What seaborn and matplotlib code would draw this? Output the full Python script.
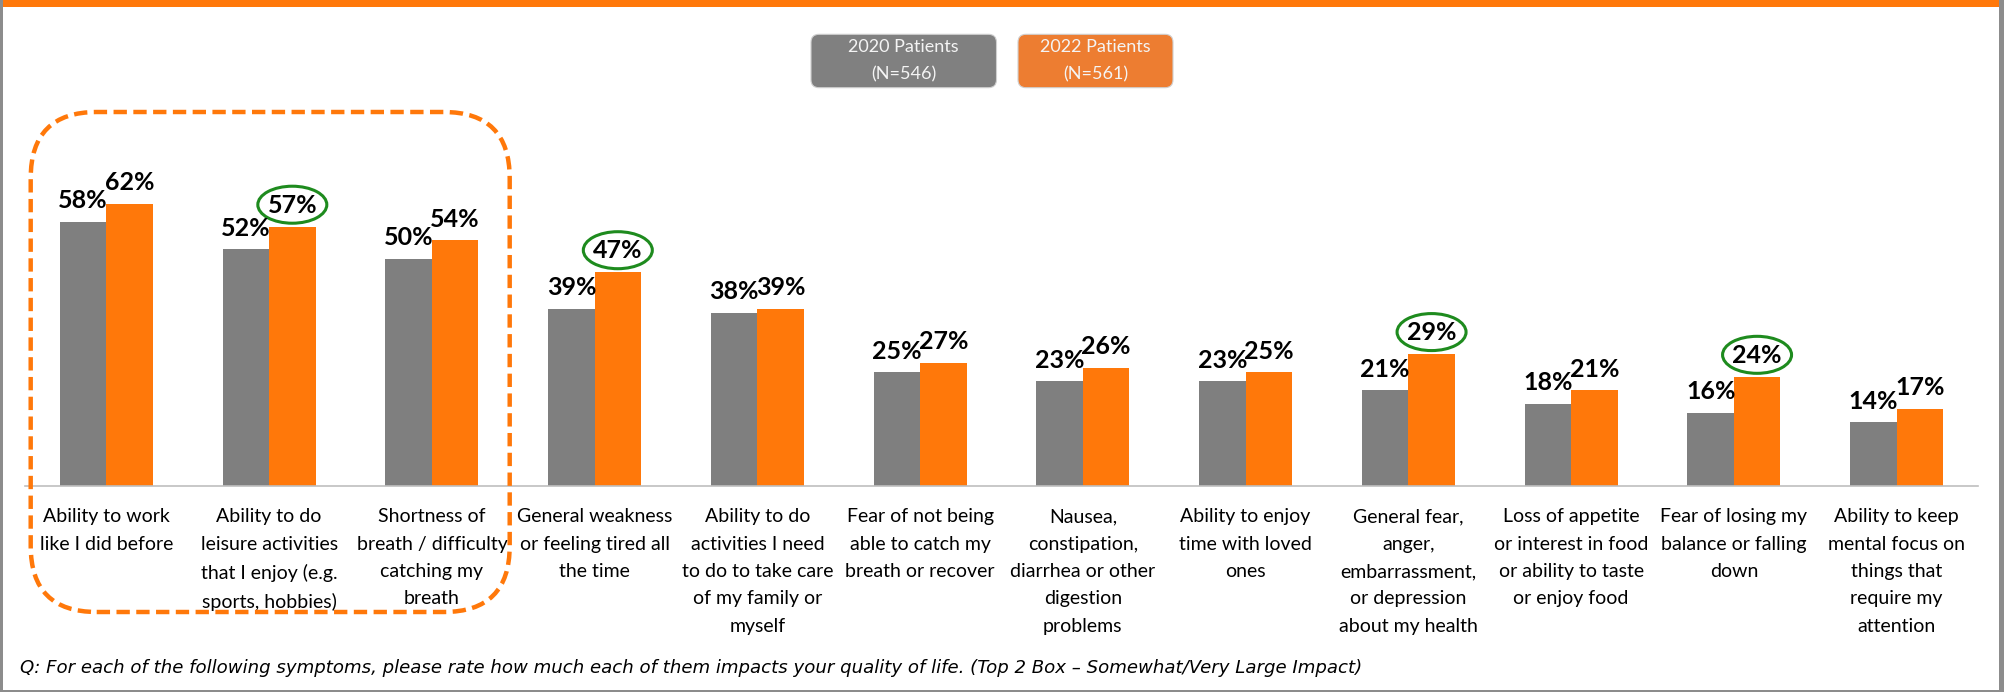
import matplotlib
matplotlib.use("Agg")
import matplotlib.pyplot as plt
from matplotlib.patches import Ellipse, FancyBboxPatch, Rectangle
import pandas as pd
import seaborn as sns

# ---- data -------------------------------------------------------------
categories = [
    "Ability to work\nlike I did before",
    "Ability to do\nleisure activities\nthat I enjoy (e.g.\nsports, hobbies)",
    "Shortness of\nbreath / difficulty\ncatching my\nbreath",
    "General weakness\nor feeling tired all\nthe time",
    "Ability to do\nactivities I need\nto do to take care\nof my family or\nmyself",
    "Fear of not being\nable to catch my\nbreath or recover",
    "Nausea,\nconstipation,\ndiarrhea or other\ndigestion\nproblems",
    "Ability to enjoy\ntime with loved\nones",
    "General fear,\nanger,\nembarrassment,\nor depression\nabout my health",
    "Loss of appetite\nor interest in food\nor ability to taste\nor enjoy food",
    "Fear of losing my\nbalance or falling\ndown",
    "Ability to keep\nmental focus on\nthings that\nrequire my\nattention",
]
pct_2020 = [58, 52, 50, 39, 38, 25, 23, 23, 21, 18, 16, 14]
pct_2022 = [62, 57, 54, 47, 39, 27, 26, 25, 29, 21, 24, 17]
series_names = ["2020 Patients", "2022 Patients"]
sample_sizes = [546, 561]
ringed_2022 = [1, 3, 8, 10]          # 2022 values circled in green
footnote = ("Q: For each of the following symptoms, please rate how much each of them "
            "impacts your quality of life. (Top 2 Box \u2013 Somewhat/Very Large Impact)")

# ---- styling ----------------------------------------------------------
GRAY = "#7F7F7F"
ORANGE = "#FF780A"
LEGEND_GRAY = "#808080"
LEGEND_ORANGE = "#ED7D31"
GREEN = "#1E8B1E"
AXIS = "#BFBFBF"
FRAME = "#8C8C8C"

sns.set_theme(style="white")
plt.rcParams["font.family"] = ["Lato", "DejaVu Sans"]

df = pd.DataFrame({
    "Symptom": categories * 2,
    "Cohort": [series_names[0]] * len(categories) + [series_names[1]] * len(categories),
    "Pct": pct_2020 + pct_2022,
})

W, H = 20.05, 6.92
fig = plt.figure(figsize=(W, H), dpi=100)
fig.patch.set_facecolor("white")
ax = fig.add_axes([0.01247, 0.2977, 0.97406, 0.5423])

sns.barplot(data=df, x="Symptom", y="Pct", hue="Cohort", order=categories,
            hue_order=series_names, palette=[GRAY, ORANGE], saturation=1,
            width=0.57, errorbar=None, legend=False, linewidth=0, ax=ax)

ax.set_xlim(-0.5, len(categories) - 0.5)
ax.set_ylim(0, 82.5)
ax.set_xlabel("")
ax.set_ylabel("")
ax.set_yticks([])
for side in ("left", "right", "top"):
    ax.spines[side].set_visible(False)
ax.spines["bottom"].set_color(AXIS)
ax.spines["bottom"].set_linewidth(1.2)

# category labels at the centres, tick marks at the boundaries
ax.set_xticks(range(len(categories)))
ax.set_xticklabels(categories, fontsize=14, linespacing=1.74, color="black")
ax.tick_params(axis="x", which="major", length=0, pad=16)
ax.set_xticks([i - 0.5 for i in range(len(categories) + 1)], minor=True)
ax.tick_params(axis="x", which="minor", length=6, width=1.2, color=AXIS, direction="out")

# value labels
for cont, vals in zip(ax.containers, [pct_2020, pct_2022]):
    ax.bar_label(cont, labels=[f"{v}%" for v in vals], padding=7,
                 fontsize=18, fontweight="bold", color="black")

# green rings around selected 2022 values
px_per_unit_y = ax.get_window_extent().height / (ax.get_ylim()[1] - ax.get_ylim()[0])
px_per_unit_x = ax.get_window_extent().width / (ax.get_xlim()[1] - ax.get_xlim()[0])
for i in ringed_2022:
    bar = ax.containers[1][i]
    cx = bar.get_x() + bar.get_width() / 2
    cy = bar.get_height() + 22 / px_per_unit_y
    ax.add_patch(Ellipse((cx, cy), 69 / px_per_unit_x, 37 / px_per_unit_y,
                         fill=False, edgecolor=GREEN, linewidth=2.2, clip_on=False))

# legend boxes
inch = fig.dpi_scale_trans
legend_boxes = [(8.11, 9.965, LEGEND_GRAY), (10.18, 11.73, LEGEND_ORANGE)]
for (x0, x1, col), name, n in zip(legend_boxes, series_names, sample_sizes):
    y0, y1 = H - 0.877, H - 0.343
    fig.patches.append(FancyBboxPatch((x0, y0), x1 - x0, y1 - y0,
                                      boxstyle="round,pad=0,rounding_size=0.08",
                                      transform=inch, facecolor=col,
                                      edgecolor="#D0D0D0", linewidth=0.8))
    fig.text((x0 + x1) / 2 / W, (y0 + y1) / 2 / H, f"{name}\n(N={n})",
             ha="center", va="center", fontsize=13, color="#F4F4F4", linespacing=1.85)

# dashed highlight around the three leading symptoms
fig.patches.append(FancyBboxPatch((0.307, H - 6.12), 4.79, 5.0,
                                  boxstyle="round,pad=0,rounding_size=0.66",
                                  transform=inch, fill=False, edgecolor=ORANGE,
                                  linewidth=3.2, linestyle=(0, (3, 1.45))))

# footnote
fig.text(20 / 2005, 1 - 668 / 692, footnote, ha="left", va="center",
         fontsize=13.1, fontstyle="italic", color="black",
         family=["DejaVu Sans"])

# slide frame: orange top band and gray outline
fig.patches.append(Rectangle((0, 1 - 7 / 692), 1999 / 2005, 7 / 692,
                             transform=fig.transFigure, facecolor=ORANGE, edgecolor="none"))
fig.patches.append(Rectangle((0, 0), 3 / 2005, 1, transform=fig.transFigure,
                             facecolor=FRAME, edgecolor="none"))
fig.patches.append(Rectangle((1999 / 2005, 0), 5 / 2005, 1, transform=fig.transFigure,
                             facecolor=FRAME, edgecolor="none"))
fig.patches.append(Rectangle((0, 0), 1999 / 2005, 2.5 / 692, transform=fig.transFigure,
                             facecolor=FRAME, edgecolor="none"))

fig.savefig("out.png", dpi=100, facecolor="white")
